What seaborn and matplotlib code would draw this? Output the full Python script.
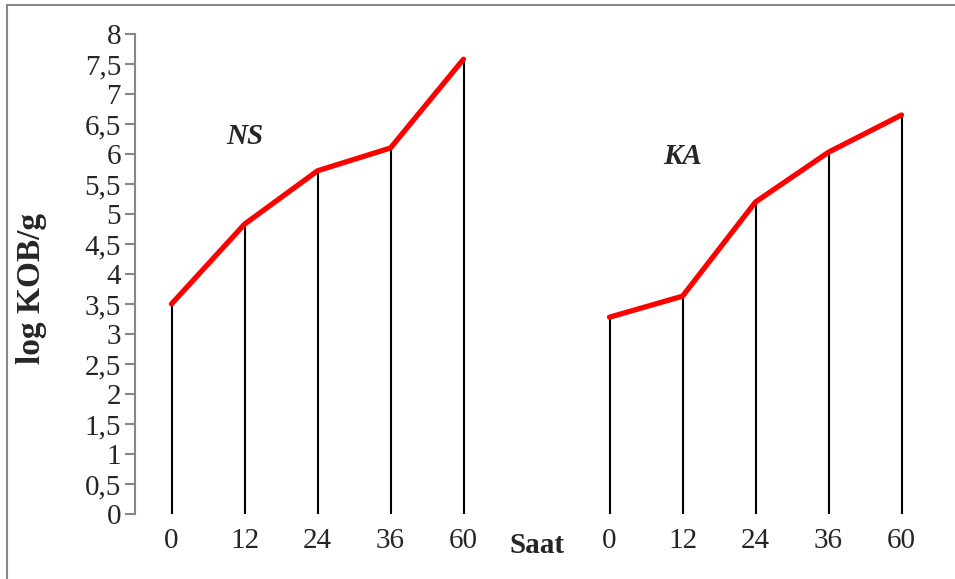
import numpy as np
import pandas as pd
import seaborn as sns
import matplotlib.pyplot as plt
from matplotlib.patches import Rectangle

# data
saat = ['0', '12', '24', '36', '60']
ns_values = [3.5, 4.83, 5.72, 6.1, 7.58]
ka_values = [3.28, 3.63, 5.2, 6.03, 6.65]

sns.set_style('white')
plt.rcParams['font.family'] = ['Liberation Serif', 'DejaVu Serif']

# slot positions: NS 0-4, gap at 5 for "Saat", KA 6-10
ns_pos = np.arange(len(saat))
ka_pos = np.arange(len(saat)) + len(saat) + 1

df = pd.DataFrame({
    'pos': np.concatenate([ns_pos, ka_pos]),
    'val': ns_values + ka_values,
    'grup': ['NS'] * len(saat) + ['KA'] * len(saat),
})

fig = plt.figure(figsize=(9.55, 5.79), dpi=100)
ax = fig.add_axes([135 / 955, 65 / 579, (938 - 135) / 955, 480 / 579])

ax.vlines(df['pos'], 0, df['val'], colors='black', linewidth=1.5, zorder=1)
sns.lineplot(data=df, x='pos', y='val', units='grup', estimator=None,
             color='#ff0000', linewidth=3.8, solid_capstyle='round',
             ax=ax, zorder=2, legend=False)

ax.set_xlim(-0.5, 10.5)
ax.set_ylim(0, 8)
ax.set_yticks(np.arange(0, 8.01, 0.5))
ax.set_yticklabels([('%g' % v).replace('.', ',') for v in np.arange(0, 8.01, 0.5)])
ax.set_xticks(list(ns_pos) + list(ka_pos))
ax.set_xticklabels(saat + saat)
ax.tick_params(axis='y', which='major', direction='out', length=7, width=1.5,
               color='#868686', labelsize=21, left=True, pad=3)
ax.tick_params(axis='x', length=0, labelsize=21, pad=10)
for s in ['top', 'right', 'bottom']:
    ax.spines[s].set_visible(False)
ax.spines['left'].set_color('#868686')
ax.spines['left'].set_linewidth(1.5)
ax.set_xlabel('')
ax.set_ylabel('log KOB/g', fontsize=24, fontweight='bold')
ax.yaxis.set_label_coords(-0.11, 0.47)

ax.text(len(saat), -0.3, 'Saat', fontsize=21, fontweight='bold',
        ha='center', va='top')
ax.text(1.0, 6.3, 'NS', fontsize=21, fontweight='bold', style='italic',
        ha='center', va='center')
ax.text(7.0, 5.95, 'KA', fontsize=21, fontweight='bold', style='italic',
        ha='center', va='center')

fig.patches.append(Rectangle((7 / 955, -0.01), 1.0, 1 - 5 / 579 + 0.01,
                             transform=fig.transFigure, fill=False,
                             edgecolor='#888888', linewidth=1.5))

fig.savefig('out.png', dpi=100)
